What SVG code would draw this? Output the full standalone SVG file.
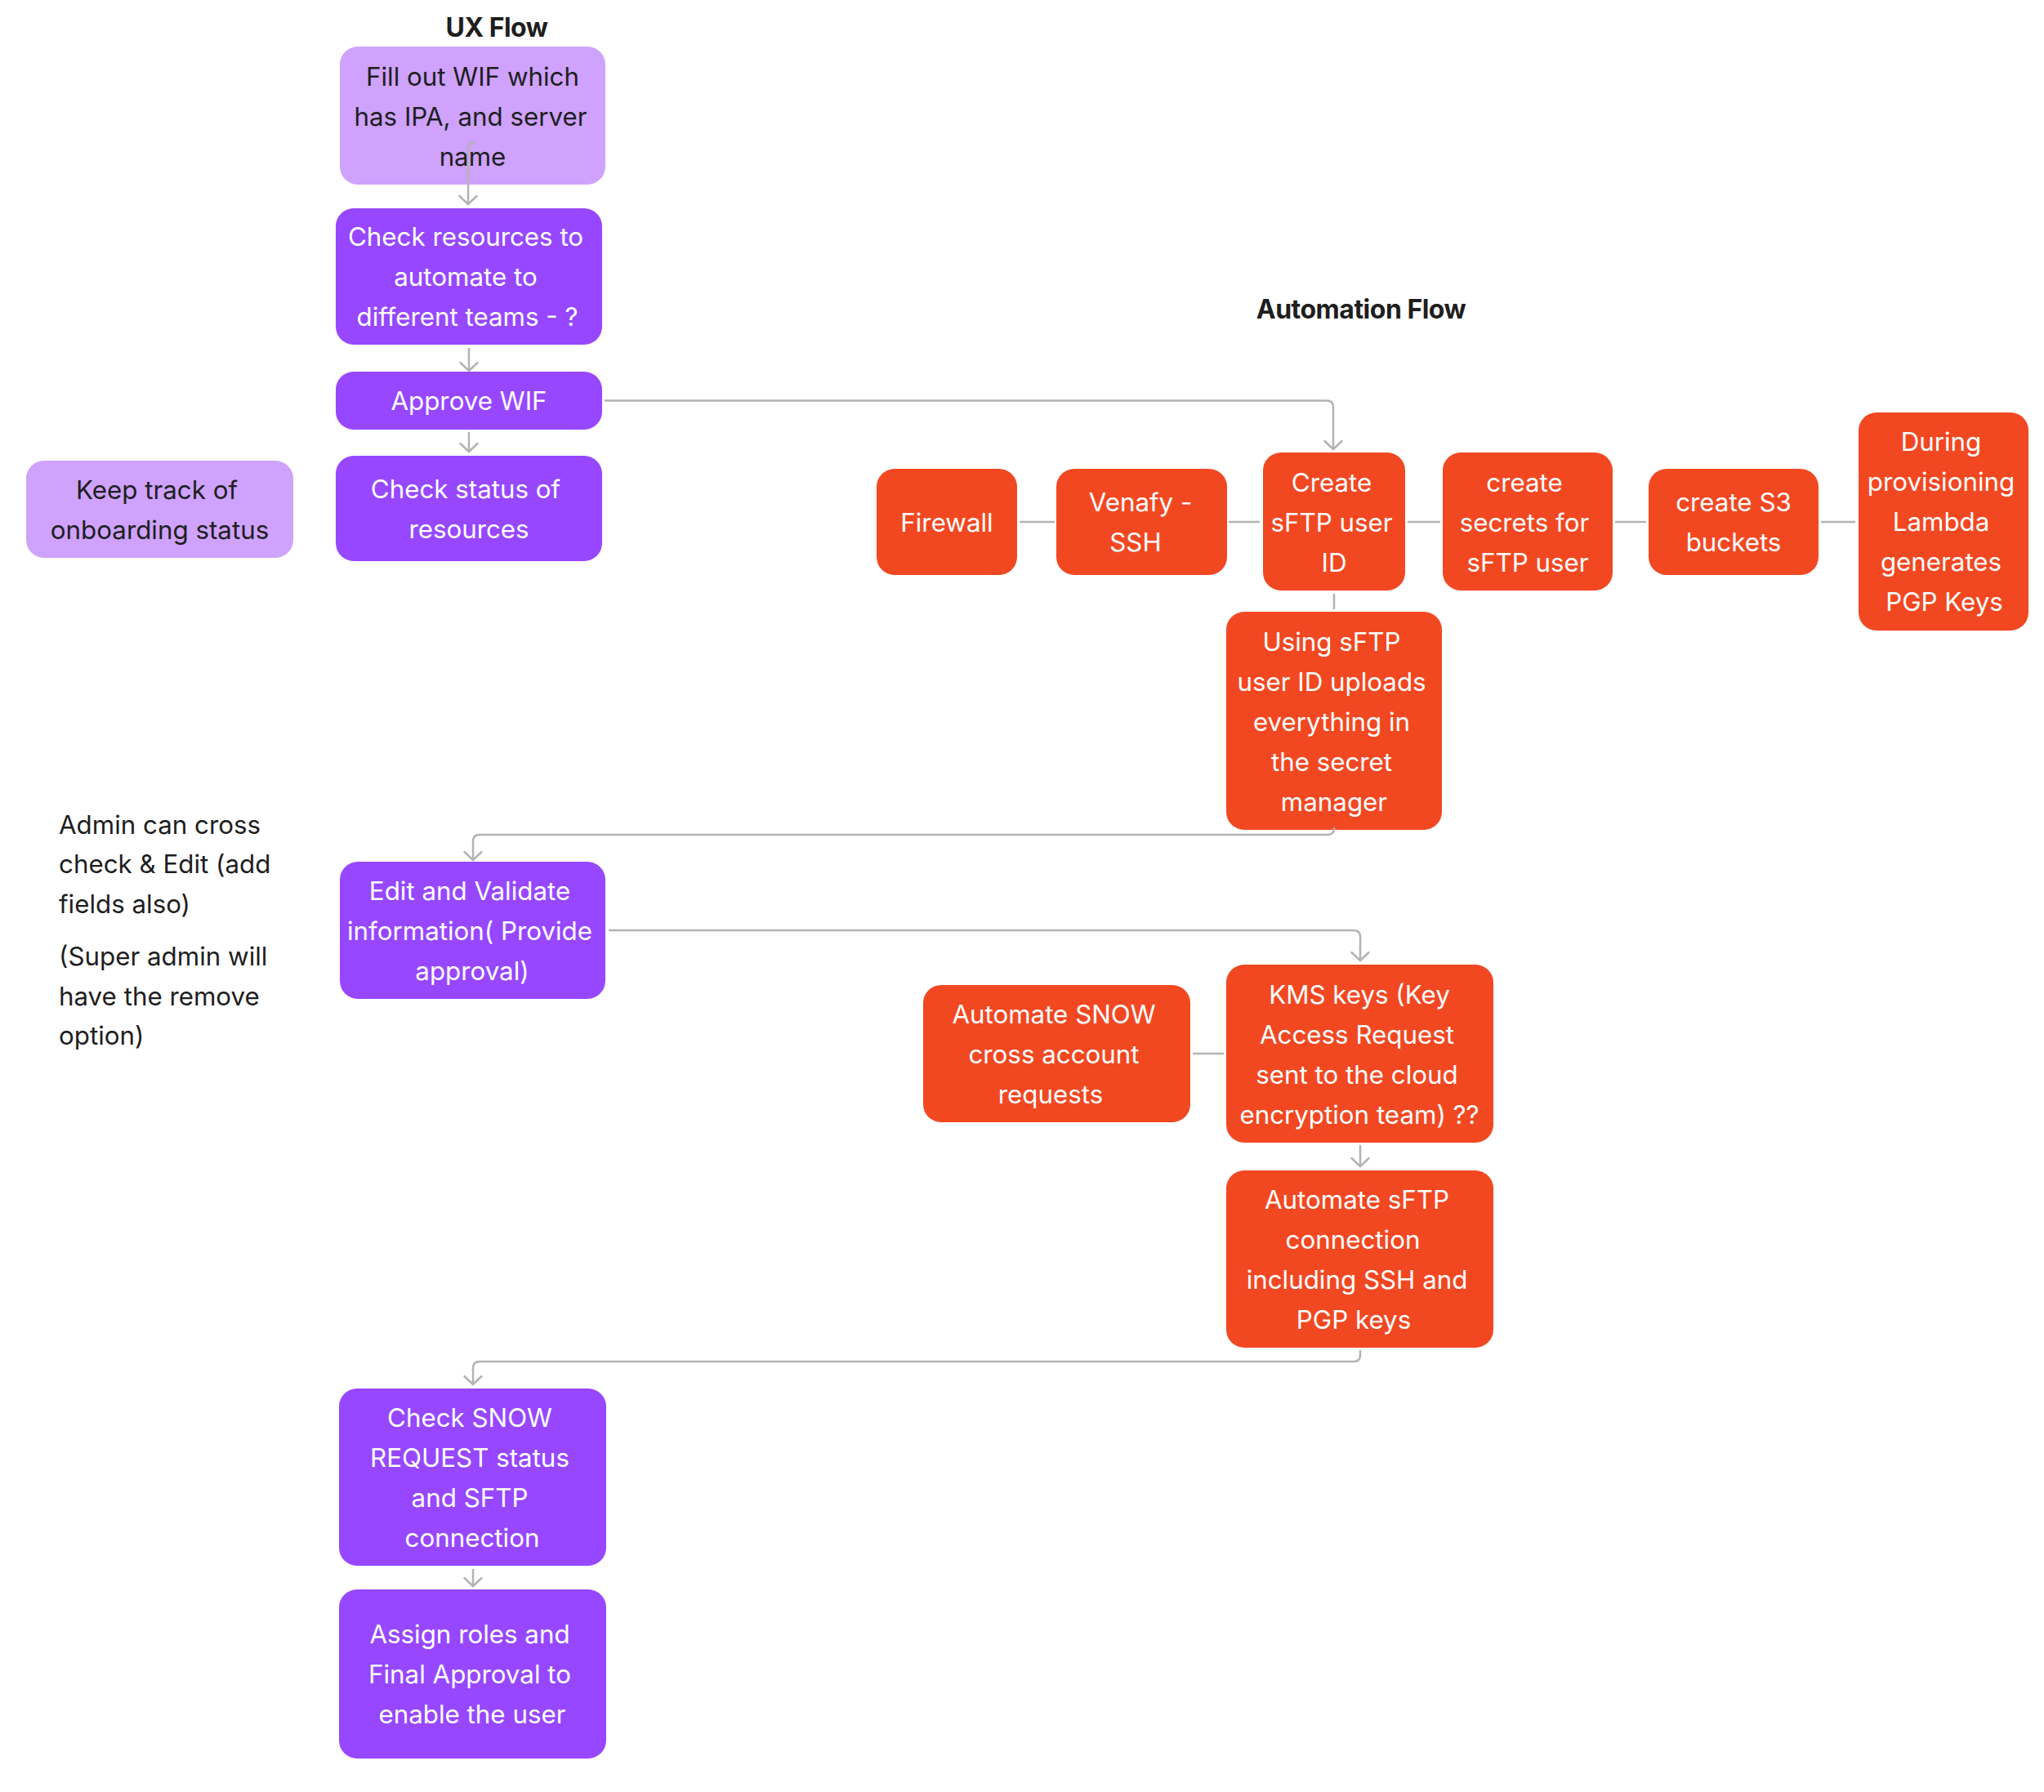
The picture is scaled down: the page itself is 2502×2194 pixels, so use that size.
<svg xmlns="http://www.w3.org/2000/svg" width="2502" height="2194" viewBox="0 0 2502 2194">
<defs>
<style>
.bg{fill:#ffffff}
.lp{fill:#CEA2FD}
.pp{fill:#9747FF}
.rd{fill:#F24822}
text{font-family:Inter,"Noto Sans","Liberation Sans",sans-serif;font-size:31.3px;text-anchor:middle}
.dk{fill:#1E1E1E}
.wt{fill:#FFFFFF}
.title{font-size:32px;font-weight:700;fill:#1E1E1E;letter-spacing:-0.5px}
.note{text-anchor:start;fill:#1E1E1E}
.cn{fill:none;stroke:#B3B3B3;stroke-width:2.5;stroke-linejoin:round;stroke-linecap:round}
</style>
<marker id="ah" markerUnits="userSpaceOnUse" orient="auto" refX="0" refY="0" markerWidth="24" markerHeight="24" viewBox="-12 -12 24 24" overflow="visible">
<path d="M-10,-10.5 L0,0 L-10,10.5" fill="none" stroke="#B3B3B3" stroke-width="2.5" stroke-linecap="round" stroke-linejoin="round"/>
</marker>
</defs>
<rect class="bg" x="0" y="0" width="2502" height="2194"/>

<text class="title" x="608" y="45">UX Flow</text>
<text class="title" x="1666" y="390">Automation Flow</text>

<g id="node-fill-wif">
<rect class="lp" x="416" y="57" width="325" height="169" rx="22"/>
<text class="dk" x="578.5" y="105">Fill out WIF which</text>
<text class="dk" x="576" y="154">has IPA, and server</text>
<text class="dk" x="578.5" y="203">name</text>
</g>

<g id="node-check-resources">
<rect class="pp" x="411" y="255" width="326" height="167" rx="22"/>
<text class="wt" x="570" y="301">Check resources to</text>
<text class="wt" x="570" y="350">automate to</text>
<text class="wt" x="572" y="399">different teams - ?</text>
</g>

<g id="node-approve-wif">
<rect class="pp" x="411" y="455" width="326" height="71" rx="22"/>
<text class="wt" x="574" y="502">Approve WIF</text>
</g>

<g id="node-check-status">
<rect class="pp" x="411" y="558" width="326" height="129" rx="22"/>
<text class="wt" x="570" y="610">Check status of</text>
<text class="wt" x="574" y="659">resources</text>
</g>

<g id="node-keep-track">
<rect class="lp" x="32" y="564" width="327" height="119" rx="22"/>
<text class="dk" x="192" y="611">Keep track of</text>
<text class="dk" x="195.5" y="660">onboarding status</text>
</g>

<g id="node-firewall">
<rect class="rd" x="1073" y="574" width="172" height="130" rx="22"/>
<text class="wt" x="1159" y="651">Firewall</text>
</g>

<g id="node-venafy">
<rect class="rd" x="1293" y="574" width="209" height="130" rx="22"/>
<text class="wt" x="1396" y="626">Venafy -</text>
<text class="wt" x="1390" y="675">SSH</text>
</g>

<g id="node-create-sftp">
<rect class="rd" x="1546" y="554" width="174" height="169" rx="22"/>
<text class="wt" x="1630" y="602">Create</text>
<text class="wt" x="1630" y="651">sFTP user</text>
<text class="wt" x="1633" y="700">ID</text>
</g>

<g id="node-create-secrets">
<rect class="rd" x="1766" y="554" width="208" height="169" rx="22"/>
<text class="wt" x="1866" y="602">create</text>
<text class="wt" x="1866" y="651">secrets for</text>
<text class="wt" x="1870" y="700">sFTP user</text>
</g>

<g id="node-create-s3">
<rect class="rd" x="2018" y="574" width="208" height="130" rx="22"/>
<text class="wt" x="2122" y="626">create S3</text>
<text class="wt" x="2122" y="675">buckets</text>
</g>

<g id="node-during-provisioning">
<rect class="rd" x="2275" y="505" width="208" height="267" rx="22"/>
<text class="wt" x="2376" y="552">During</text>
<text class="wt" x="2376" y="601">provisioning</text>
<text class="wt" x="2376" y="650">Lambda</text>
<text class="wt" x="2376" y="699">generates</text>
<text class="wt" x="2380" y="748">PGP Keys</text>
</g>

<g id="node-using-sftp">
<rect class="rd" x="1501" y="749" width="264" height="267" rx="22"/>
<text class="wt" x="1630" y="797">Using sFTP</text>
<text class="wt" x="1630" y="846">user ID uploads</text>
<text class="wt" x="1630" y="895">everything in</text>
<text class="wt" x="1630" y="944">the secret</text>
<text class="wt" x="1633" y="993">manager</text>
</g>

<g id="note-admin">
<text class="note" x="72" y="1021">Admin can cross</text>
<text class="note" x="72" y="1069">check &amp; Edit (add</text>
<text class="note" x="72" y="1118">fields also)</text>
<text class="note" x="72" y="1182">(Super admin will</text>
<text class="note" x="72" y="1231">have the remove</text>
<text class="note" x="72" y="1279">option)</text>
</g>

<g id="node-edit-validate">
<rect class="pp" x="416" y="1055" width="325" height="168" rx="22"/>
<text class="wt" x="575" y="1102">Edit and Validate</text>
<text class="wt" x="575" y="1151">information( Provide</text>
<text class="wt" x="578" y="1200">approval)</text>
</g>

<g id="node-automate-snow">
<rect class="rd" x="1130" y="1206" width="327" height="168" rx="22"/>
<text class="wt" x="1290" y="1253">Automate SNOW</text>
<text class="wt" x="1290" y="1302">cross account</text>
<text class="wt" x="1286" y="1351">requests</text>
</g>

<g id="node-kms-keys">
<rect class="rd" x="1501" y="1181" width="327" height="218" rx="22"/>
<text class="wt" x="1664" y="1229">KMS keys (Key</text>
<text class="wt" x="1661" y="1278">Access Request</text>
<text class="wt" x="1661" y="1327">sent to the cloud</text>
<text class="wt" x="1664" y="1376">encryption team) ??</text>
</g>

<g id="node-automate-sftp">
<rect class="rd" x="1501" y="1433" width="327" height="217" rx="22"/>
<text class="wt" x="1661" y="1480">Automate sFTP</text>
<text class="wt" x="1656" y="1529">connection</text>
<text class="wt" x="1661" y="1578">including SSH and</text>
<text class="wt" x="1657" y="1627">PGP keys</text>
</g>

<g id="node-check-snow">
<rect class="pp" x="415" y="1700" width="327" height="217" rx="22"/>
<text class="wt" x="575" y="1747">Check SNOW</text>
<text class="wt" x="575" y="1796">REQUEST status</text>
<text class="wt" x="575" y="1845">and SFTP</text>
<text class="wt" x="578" y="1894">connection</text>
</g>

<g id="node-assign-roles">
<rect class="pp" x="415" y="1946" width="327" height="207" rx="22"/>
<text class="wt" x="575" y="2012">Assign roles and</text>
<text class="wt" x="575" y="2061">Final Approval to</text>
<text class="wt" x="578" y="2110">enable the user</text>
</g>

<g id="connectors">
<path class="cn" d="M580,175 Q573,175 573,182 L573,250" marker-end="url(#ah)"/>
<path class="cn" d="M574,427 L574,454" marker-end="url(#ah)"/>
<path class="cn" d="M574,530 L574,553" marker-end="url(#ah)"/>
<path class="cn" d="M741,490.5 L1624,490.5 Q1632,490.5 1632,498.5 L1632,550" marker-end="url(#ah)"/>
<path class="cn" d="M1249,639 L1290,639"/>
<path class="cn" d="M1505,639 L1541,639"/>
<path class="cn" d="M1724,639 L1762,639"/>
<path class="cn" d="M1978,639 L2014,639"/>
<path class="cn" d="M2230,639 L2270,639"/>
<path class="cn" d="M1633,728 L1633,745"/>
<path class="cn" d="M1633,1016 L1633,1014 Q1633,1022 1625,1022 L587,1022 Q579,1022 579,1030 L579,1053" marker-end="url(#ah)"/>
<path class="cn" d="M746,1139 L1657,1139 Q1665,1139 1665,1147 L1665,1176" marker-end="url(#ah)"/>
<path class="cn" d="M1461,1290 L1497,1290"/>
<path class="cn" d="M1665,1403 L1665,1428" marker-end="url(#ah)"/>
<path class="cn" d="M1665,1654 L1665,1659 Q1665,1667 1657,1667 L587,1667 Q579,1667 579,1675 L579,1695" marker-end="url(#ah)"/>
<path class="cn" d="M579,1922 L579,1942" marker-end="url(#ah)"/>
</g>
</svg>
